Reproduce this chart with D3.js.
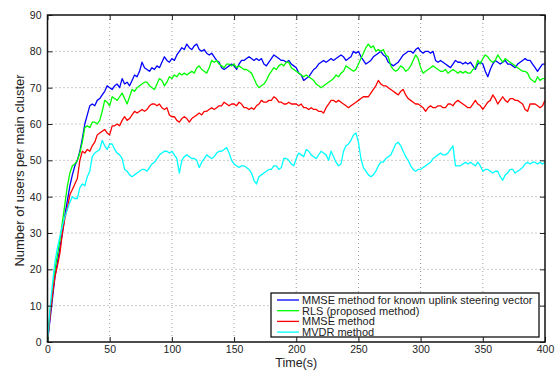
<!DOCTYPE html>
<html>
<head>
<meta charset="utf-8">
<script src="https://cdnjs.cloudflare.com/ajax/libs/d3/7.8.5/d3.min.js"></script>
<style>
  body { margin: 0; background: #fff; }
  .chart text { font-family: "Liberation Sans", Arial, sans-serif; fill: #222; }
  .grid line { stroke: #999; stroke-dasharray: 1 3; }
</style>
</head>
<body>
<div class="chart"></div>
<script>
// time axis: one sample every 2 s
var times = d3.range(0, 401, 2);

var xTicks = [0, 50, 100, 150, 200, 250, 300, 350, 400];
var yTicks = [0, 10, 20, 30, 40, 50, 60, 70, 80, 90];

var seriesNames = [
  "MMSE method for known uplink steering vector",
  "RLS (proposed method)",
  "MMSE method",
  "MVDR method"
];

var mmseKnown = [
  0, 6, 12, 18, 22, 26, 30, 35, 39, 43, 46, 48.5, 50, 52.5, 56, 60, 62.5, 65, 65.5, 65,
  66.5, 67, 68, 69, 70.5, 70, 69.5, 70.5, 71, 70, 72.5, 71, 71.5, 70.5, 72, 73.5, 73, 74.5, 77, 75.5,
  75, 74.5, 75.5, 75, 76, 75.5, 77, 78.5, 77.5, 77, 78, 77.5, 79, 80, 81, 80.5, 82, 81, 80.5, 81.5,
  82, 80.5, 80, 80.5, 79.5, 79, 79.5, 78.5, 77.5, 77, 75.5, 75, 75.5, 76, 76.5, 76, 75, 76.5, 77.5, 77.5,
  78, 78.5, 78, 77.5, 78, 77.5, 78, 76.5, 76, 77, 78, 79, 78.5, 78, 77.5, 77.5, 77, 77.5, 76.5, 76,
  75.5, 74, 73.5, 72, 72.5, 73, 74, 75, 75.5, 76.5, 77, 77.5, 77, 77.5, 78, 77.5, 78, 78.5, 79, 78.5,
  77.5, 78, 78.5, 80, 79.5, 80, 78.5, 77.5, 76.5, 77, 77.5, 78.5, 79, 79.5, 80, 79, 78.5, 77, 76.5, 76,
  76.5, 77, 78, 79, 79.5, 80, 80, 79.5, 80.5, 81, 80, 79.5, 80, 80, 79.5, 80, 77.5, 77, 77.5, 77,
  76.5, 76, 75.5, 76.5, 77.5, 77, 77, 76.5, 77, 76.5, 77, 76, 75, 76.5, 77, 76.5, 74.5, 73, 75, 76.5,
  77.5, 77, 76.5, 77, 77.5, 76.5, 76.5, 76, 75.5, 76.5, 77, 77.5, 78, 77.5, 77.5, 76.5, 75.5, 74.5, 75.5, 76.5,
  76.5
];

var rls = [
  0, 8, 14, 20, 24, 28, 33, 38, 43, 46.5, 48.5, 49, 50, 52, 55, 59, 59.5, 59, 60.5, 60.5,
  60, 61, 63.5, 66.5, 66, 65, 67.5, 67, 66.5, 67.5, 68.5, 67, 65.5, 67.5, 69.5, 69, 70, 70.5, 71, 71.5,
  71.5, 70.5, 70, 69.5, 71, 72.5, 72, 70.5, 71.5, 73, 72.5, 73.5, 73, 74, 73.5, 74, 73.5, 74, 74.5, 74,
  75.5, 76, 75, 74.5, 74, 75.5, 77.5, 77, 77.5, 76.5, 76, 75.5, 76.5, 76.5, 76, 76.5, 75.5, 76, 75.5, 75,
  75, 74.5, 74, 72.5, 71, 70, 70.5, 71, 72, 73.5, 74.5, 75.5, 75, 76, 76.5, 76, 77, 77, 75.5, 75,
  74.5, 74, 73.5, 73, 73.5, 73, 72.5, 72, 71, 70.5, 70, 70.5, 71, 71.5, 72, 72.5, 73.5, 73, 74, 74.5,
  76, 75.5, 75, 74.5, 75, 76.5, 78, 79.5, 81, 82, 81, 81.5, 80, 80.5, 80, 80.5, 79, 78.5, 76, 75,
  74.5, 75, 76, 75.5, 74.5, 75, 76, 77.5, 79, 78, 75.5, 74, 74.5, 75, 75.5, 76, 75.5, 75, 74.5, 74.5,
  75, 74, 74.5, 75, 74.5, 74, 74.5, 74, 74.5, 74, 74, 75, 75.5, 77.5, 76.5, 78, 79, 78.5, 77.5, 77,
  77.5, 79, 78, 77, 78, 77.5, 77, 76.5, 76, 75.5, 75, 74.5, 74.5, 74, 72.5, 72, 71.5, 73, 72, 72.5,
  72.5
];

var mmse = [
  0, 7, 13, 18, 21, 24.5, 30, 34, 37, 40.5, 42, 43.5, 45, 50, 52.5, 52, 53, 52.5, 54, 55,
  57, 57.5, 58, 58.5, 57.5, 57, 59.5, 59.5, 60, 59.5, 61, 62, 61, 61.5, 62.5, 63.5, 63, 63.5, 64, 63.5,
  64, 65, 65.5, 65.5, 65, 65.5, 64.5, 64, 64.5, 62.5, 62, 62, 61, 60.5, 61.5, 62, 61.5, 60.5, 61.5, 62,
  62.5, 63, 62.5, 63.5, 63.5, 64, 64.5, 64, 64.5, 65, 65, 66, 65.5, 65, 65.5, 65.5, 65, 66, 65.5, 64.5,
  64.5, 64, 64.5, 64, 65, 65.5, 66.5, 66, 66, 66.5, 66.5, 67.5, 67, 66, 66, 65.5, 65.5, 66, 65.5, 65.5,
  65.5, 65, 65.5, 64.5, 64.5, 64, 64.5, 64, 64, 63.5, 63.5, 63, 64.5, 65.5, 66.5, 66.5, 66, 66.5, 66, 65.5,
  65, 64.5, 65, 65.5, 66, 66.5, 67, 67.5, 67.5, 67.5, 68.5, 69.5, 70.5, 72, 71, 70.5, 70.5, 70, 69.5, 69,
  68.5, 68, 69, 69.5, 68, 67, 66.5, 66, 65.5, 65.5, 65, 64.5, 63.5, 64.5, 65, 64.5, 64.5, 65, 65, 64.5,
  64.5, 65.5, 65.5, 65, 66, 66.5, 66, 65.5, 65, 64.5, 64.5, 65.5, 66.5, 65.5, 65, 64, 65, 66, 66.5, 68,
  67, 65.5, 66.5, 67.5, 66.5, 66, 67, 67, 66.5, 66.5, 66, 65.5, 64, 63.5, 65.5, 65.5, 65.5, 65, 64.5, 65,
  66.5
];

var mvdr = [
  0, 9, 16, 22, 26, 29, 32, 34.5, 36.5, 38.5, 40, 39.5, 39.5, 42.5, 43.5, 43, 45.5, 47, 51, 52,
  52.5, 53, 55.5, 54, 53, 54.5, 54.5, 53, 52, 51.5, 50.5, 47.5, 47, 46, 45.5, 46, 46.5, 47, 47.5, 47.5,
  47, 48, 49, 49.5, 50.5, 51.5, 52, 52.5, 52.5, 52, 52.5, 51.5, 50.5, 46.5, 50, 51, 51.5, 51, 50.5, 50.5,
  50, 48, 49.5, 50.5, 51.5, 51, 50.5, 51, 52, 52.5, 52.5, 53, 53.5, 52, 50, 49, 48.5, 48, 48.5, 48.5,
  48, 47.5, 46.5, 44.5, 43.5, 45.5, 46, 46.5, 47, 47.5, 47.5, 48.5, 48.5, 47.5, 48, 50.5, 50.5, 50, 49, 48.5,
  50.5, 52, 51.5, 51, 53, 52.5, 51.5, 51, 50.5, 51.5, 52.5, 52, 51.5, 50, 52.5, 51, 49.5, 48.5, 49, 52.5,
  54, 54.5, 55.5, 57, 57.5, 55, 50.5, 48, 47, 46, 45.5, 46, 47, 48.5, 49.5, 49.5, 50.5, 51, 51.5, 53,
  54.5, 55, 54, 52.5, 51, 50, 48.5, 47.5, 47, 47.5, 47.5, 48, 48.5, 49, 49.5, 50.5, 51, 51.5, 52, 51.5,
  51.5, 52, 53, 54, 48.5, 48.5, 48.5, 49, 49.5, 49, 49.5, 49, 48.5, 49.5, 48.5, 47, 47.5, 47.5, 47, 46.5,
  47, 47, 45.5, 44.5, 46, 46.5, 47.5, 47.5, 46.5, 47, 47.5, 48, 49, 49.5, 49, 49.5, 49.5, 49, 49.5, 49,
  49.5
];

var seriesValues = [mmseKnown, rls, mmse, mvdr];
var seriesColors = ["#0000ff", "#00ff00", "#ff0000", "#00ffff"];

// margins (plot box ~47..545 x 15..342)
var margin = {top: 15, right: 12, bottom: 28, left: 47.5}
  , width = 557 - margin.left - margin.right
  , height = 370 - margin.top - margin.bottom;

var xScale = d3.scaleLinear().domain([0, 400]).range([0, width]);
var yScale = d3.scaleLinear().domain([0, 90]).range([height, 0]);

var svg = d3.select(".chart").append("svg")
    .attr("width", 557)
    .attr("height", 370)
  .append("g")
    .attr("transform", "translate(" + margin.left + "," + margin.top + ")");

// dotted grid
var grid = svg.append("g").attr("class", "grid");
grid.selectAll(".vx").data(xTicks.slice(1, -1)).enter().append("line")
    .attr("x1", d => xScale(d)).attr("x2", d => xScale(d))
    .attr("y1", 0).attr("y2", height);
grid.selectAll(".hy").data(yTicks.slice(1, -1)).enter().append("line")
    .attr("y1", d => yScale(d)).attr("y2", d => yScale(d))
    .attr("x1", 0).attr("x2", width);

// lines
var line = d3.line()
    .x((d, i) => xScale(times[i]))
    .y(d => yScale(d));

svg.selectAll(".series")
    .data(seriesValues)
  .enter().append("path")
    .attr("class", "series")
    .attr("fill", "none")
    .attr("stroke", (d, i) => seriesColors[i])
    .attr("stroke-width", 1.3)
    .attr("stroke-linejoin", "round")
    .attr("d", line);

// axes, ticks pointing inward, on all four sides
svg.append("g")
    .attr("transform", "translate(0," + height + ")")
    .call(d3.axisBottom(xScale).tickValues(xTicks).tickSizeInner(-5).tickSizeOuter(0).tickPadding(3.5));
svg.append("g")
    .call(d3.axisLeft(yScale).tickValues(yTicks).tickSizeInner(-5).tickSizeOuter(0).tickPadding(6));
svg.append("g")
    .call(d3.axisTop(xScale).tickValues(xTicks).tickSizeInner(-5).tickSizeOuter(0).tickFormat(""));
svg.append("g")
    .attr("transform", "translate(" + width + ",0)")
    .call(d3.axisRight(yScale).tickValues(yTicks).tickSizeInner(-5).tickSizeOuter(0).tickFormat(""));

svg.selectAll(".domain").remove();
svg.selectAll(".tick line").attr("stroke", "#222");
svg.selectAll(".tick text").style("font-size", "10.5px").attr("fill", "#222");

// frame
svg.append("rect")
    .attr("width", width).attr("height", height)
    .attr("fill", "none")
    .attr("stroke", "#111")
    .attr("stroke-width", 1.5);

// axis labels
svg.append("text")
    .attr("x", width / 2)
    .attr("y", height + 24.7)
    .attr("text-anchor", "middle")
    .style("font-size", "12.5px")
    .text("Time(s)");

svg.append("text")
    .attr("transform", "rotate(-90)")
    .attr("x", -height / 2 + 8)
    .attr("y", -24)
    .attr("text-anchor", "middle")
    .style("font-size", "13px")
    .text("Number of users per main cluster");

// legend box
var legend = svg.append("g")
    .attr("transform", "translate(" + (271 - margin.left) + "," + (293 - margin.top) + ")");
legend.append("rect")
    .attr("width", 268).attr("height", 44)
    .attr("fill", "#fff")
    .attr("stroke", "#111")
    .attr("stroke-width", 1.3);

var item = legend.selectAll(".item")
    .data(seriesNames)
  .enter().append("g")
    .attr("transform", (d, i) => "translate(0," + (7 + i * 10.7) + ")");
item.append("line")
    .attr("x1", 6).attr("x2", 28)
    .attr("stroke", (d, i) => seriesColors[i])
    .attr("stroke-width", 1.3);
item.append("text")
    .attr("x", 31)
    .attr("dy", "0.35em")
    .style("font-size", "11px")
    .text(d => d);
</script>
</body>
</html>
